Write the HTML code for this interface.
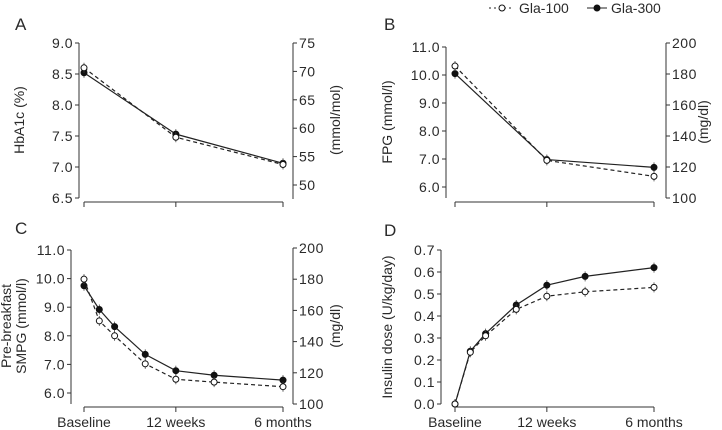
<!DOCTYPE html>
<html><head><meta charset="utf-8"><style>
body{margin:0;background:#fff}
svg{display:block;font-family:"Liberation Sans",sans-serif;fill:#222}
text{fill:#2a2a2a}
</style></head><body>
<svg id="c" width="722" height="430"></svg>
<script>
const weeksAB=[0,12,26];
const weeksCD=[0,2,4,8,12,17,26];
const aG300=[8.52,7.53,7.06];
const aG100=[8.60,7.48,7.04];
const bG300=[10.05,6.98,6.70];
const bG100=[10.32,6.95,6.38];
const cG300=[9.75,8.92,8.32,7.35,6.78,6.62,6.45];
const cG100=[9.98,8.52,8.00,7.02,6.48,6.38,6.22];
const dG300=[0,0.24,0.32,0.45,0.54,0.58,0.62];
const dG100=[0,0.235,0.31,0.43,0.49,0.51,0.53];
const aTicks=["6.5","7.0","7.5","8.0","8.5","9.0"];
const aRTicks=["50","55","60","65","70","75"];
const bTicks=["6.0","7.0","8.0","9.0","10.0","11.0"];
const mgTicks=["100","120","140","160","180","200"];
const dTicks=["0.0","0.1","0.2","0.3","0.4","0.5","0.6","0.7"];
const xLabels=["Baseline","12 weeks","6 months"];
const xLabelWeeks=[0,12,26];

const svg=document.getElementById('c');
const NS='http://www.w3.org/2000/svg';
function mk(tag,attrs,parent){const e=document.createElementNS(NS,tag);for(const k in attrs)e.setAttribute(k,attrs[k]);(parent||svg).appendChild(e);return e;}
function txt(s,x,y,attrs,parent){const e=mk('text',Object.assign({x:x,y:y,'font-size':14},attrs||{}),parent);e.textContent=s;return e;}

function panel(o){
  const g=mk('g',{});
  
  
  const xs=w=>o.x0+(o.x1-o.x0)*w/26;
  const ys=v=>o.yb+(o.yt-o.yb)*(v-o.vmin)/(o.vmax-o.vmin);
  const L=txt(o.letter,o.lx,o.ly,{'font-size':17},g);
  
  const la=mk('g',{},g);
  
  mk('line',{x1:o.ax,y1:o.yt,x2:o.ax,y2:o.axb,stroke:'#333','stroke-width':1},la);
  o.ticks.forEach(t=>{const y=ys(parseFloat(t));mk('line',{x1:o.ax-4,y1:y,x2:o.ax,y2:y,stroke:'#333'},la);
    txt(t,o.ax-6,y+5,{'text-anchor':'end','font-size':14,'letter-spacing':0.5},la);});
  const yt=txt(o.ytitle,0,0,{'text-anchor':'middle','font-size':14,transform:`translate(${o.tx},${o.ty}) rotate(-90)`},g);
  
  if(o.ytitle2){const y2=txt(o.ytitle2,0,0,{'text-anchor':'middle','font-size':14,transform:`translate(${o.tx+15},${o.ty}) rotate(-90)`},g);
    }
  if(o.rticks){
    const ra=mk('g',{},g);
    
    mk('line',{x1:o.rx,y1:o.ryt,x2:o.rx,y2:o.ryb,stroke:'#333'},ra);
    const rv0=parseFloat(o.rticks[0]),rv1=parseFloat(o.rticks[o.rticks.length-1]);
    o.rticks.forEach(t=>{const y=o.ryb0+(o.ryt-o.ryb0)*(parseFloat(t)-rv0)/(rv1-rv0);
      mk('line',{x1:o.rx,y1:y,x2:o.rx+4,y2:y,stroke:'#333'},ra);
      txt(t,o.rx+6,y+5,{'font-size':14,'letter-spacing':0.5},ra);});
    const rt=txt(o.rtitle,0,0,{'text-anchor':'middle','font-size':14,transform:`translate(${o.rtx},${o.ty}) rotate(-90)`},g);
    
  }
  const xa=mk('g',{},g);
  
  mk('line',{x1:xs(0),y1:o.xy,x2:xs(26),y2:o.xy,stroke:'#333'},xa);
  xLabelWeeks.forEach((w,i)=>{mk('line',{x1:xs(w),y1:o.xy,x2:xs(w),y2:o.xy+5,stroke:'#333'},xa);
    if(o.xlabels)txt(xLabels[i],xs(w),o.xy+20,{'text-anchor':'middle','font-size':14},xa);});
  function series(vals,dashed,filled,name){
    const sg=mk('g',{},g);
    
    const pts=vals.map((v,i)=>xs(o.weeks[i])+','+ys(v)).join(' ');
    const pl=mk('polyline',{points:pts,fill:'none',stroke:'#222','stroke-width':1.2,'stroke-dasharray':dashed?'4,3':'none'},sg);
    
    vals.forEach((v,i)=>{
      mk('line',{x1:xs(o.weeks[i]),y1:ys(v)-5,x2:xs(o.weeks[i]),y2:ys(v)+5,stroke:'#444','stroke-width':0.8},sg);
      const c=mk('circle',{cx:xs(o.weeks[i]),cy:ys(v),r:3,fill:filled?'#111':'#fff',stroke:'#111','stroke-width':1},sg);
      
    });
  }
  series(o.s300,false,true,'series-gla-300');
  series(o.s100,true,false,'series-gla-100');
}

panel({name:'panel-a-hba1c',letter:'A',lx:15,ly:30,x0:84,x1:283,ax:79,yt:43,yb:198,axb:198,vmin:6.5,vmax:9.0,ticks:aTicks,
  ytitle:'HbA1c (%)',tx:24,ty:120,rticks:aRTicks,rx:293,ryt:43,ryb0:185,ryb:199,rtitle:'(mmol/mol)',rtx:340,
  xy:202,xlabels:false,weeks:weeksAB,s300:aG300,s100:aG100});
panel({name:'panel-b-fpg',letter:'B',lx:384,ly:30,x0:455,x1:654,ax:446,yt:47,yb:187,axb:198,vmin:6.0,vmax:11.0,ticks:bTicks,
  ytitle:'FPG (mmol/l)',tx:392,ty:122,rticks:mgTicks,rx:666,ryt:43,ryb0:198,ryb:198,rtitle:'(mg/dl)',rtx:708,
  xy:202,xlabels:false,weeks:weeksAB,s300:bG300,s100:bG100});
panel({name:'panel-c-smpg',letter:'C',lx:15,ly:234,x0:84,x1:283,ax:71,yt:250,yb:393,axb:404,vmin:6.0,vmax:11.0,ticks:bTicks,
  ytitle:'Pre-breakfast',ytitle2:'SMPG (mmol/l)',tx:11,ty:326,rticks:mgTicks,rx:293,ryt:248,ryb0:404,ryb:404,rtitle:'(mg/dl)',rtx:340,
  xy:407,xlabels:true,weeks:weeksCD,s300:cG300,s100:cG100});
panel({name:'panel-d-insulin',letter:'D',lx:384,ly:236,x0:455,x1:654,ax:441,yt:250,yb:404,axb:404,vmin:0,vmax:0.7,ticks:dTicks,
  ytitle:'Insulin dose (U/kg/day)',tx:392,ty:327,
  xy:407,xlabels:true,weeks:weeksCD,s300:dG300,s100:dG100});

const lg=mk('g',{});


const e1=mk('g',{},lg);


mk('line',{x1:489,y1:8,x2:514,y2:8,stroke:'#222','stroke-dasharray':'2,3'},e1);
mk('circle',{cx:502,cy:8,r:3,fill:'#fff',stroke:'#111'},e1);
txt('Gla-100',519,13,{'font-size':14},e1);
const e2=mk('g',{},lg);


mk('line',{x1:587,y1:8,x2:607,y2:8,stroke:'#222'},e2);
mk('circle',{cx:597,cy:8,r:3,fill:'#111',stroke:'#111'},e2);
txt('Gla-300',611,13,{'font-size':14},e2);
</script>
</body></html>
